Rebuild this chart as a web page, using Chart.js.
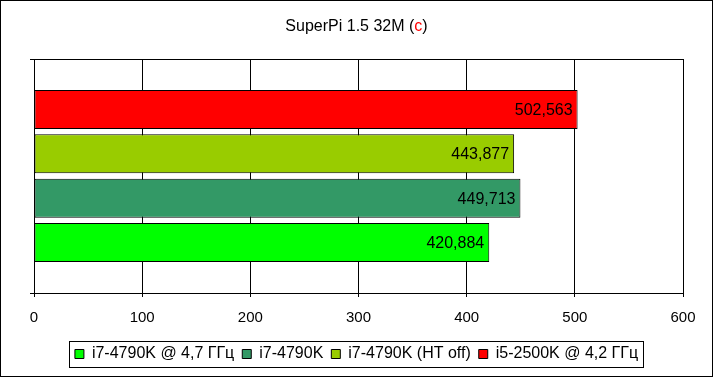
<!DOCTYPE html>
<html><head><meta charset="utf-8">
<script src="https://cdn.jsdelivr.net/npm/chart.js@4/dist/chart.umd.min.js"></script>
<style>
html,body{margin:0;padding:0;background:#fff;}
#wrap{position:relative;width:713px;height:377px;overflow:hidden;}
#title{position:absolute;left:0;top:17px;width:713px;text-align:center;font:16px "Liberation Sans",Arial,sans-serif;color:#000;white-space:nowrap;}
#title .c{color:#ff0000;}
canvas{position:absolute;left:0;top:0;}
</style></head><body>
<div id="wrap"><canvas id="c" width="713" height="377"></canvas><div id="title">SuperPi 1.5 32M (<span class="c">c</span>)</div></div>
<script>
const categories = ['SuperPi 1.5 32M'];
const seriesNames = ['i5-2500K @ 4,2 ГГц', 'i7-4790K (HT off)', 'i7-4790K', 'i7-4790K @ 4,7 ГГц'];
const seriesValues = [[502.563], [443.877], [449.713], [420.884]];
const seriesColors = ['#ff0000', '#99cc00', '#339966', '#00ff00'];
const xTicks = [0, 100, 200, 300, 400, 500, 600];

const FAMILY = '"Liberation Sans", Arial, sans-serif';

const frame = {
  id: 'frame',
  afterDraw(chart) {
    const ctx = chart.ctx;
    ctx.save();
    ctx.strokeStyle = '#000';
    ctx.lineWidth = 1;
    ctx.strokeRect(0.5, 0.5, chart.width - 1, chart.height - 1);
    const lg = chart.legend;
    if (lg && lg.legendHitBoxes && lg.legendHitBoxes.length) {
      const hb = lg.legendHitBoxes;
      let l = Infinity, r = -Infinity, t = Infinity, b = -Infinity;
      hb.forEach(h => { l = Math.min(l, h.left); r = Math.max(r, h.left + h.width); t = Math.min(t, h.top); b = Math.max(b, h.top + h.height); });
      const L = Math.round(l - 6) + 0.5, R = Math.round(r + 5) + 0.5;
      const T = Math.round(t - 5) + 0.5, B = Math.round(b + 5) + 0.5;
      ctx.strokeRect(L, T, R - L, B - T);
    }
    ctx.restore();
  }
};

const valueLabels = {
  id: 'valueLabels',
  afterDatasetsDraw(chart) {
    const ctx = chart.ctx;
    ctx.save();
    ctx.font = '16px ' + FAMILY;
    ctx.fillStyle = '#000';
    ctx.textAlign = 'right';
    ctx.textBaseline = 'middle';
    chart.data.datasets.forEach((ds, i) => {
      const meta = chart.getDatasetMeta(i);
      meta.data.forEach((el, j) => {
        const v = ds.data[j];
        ctx.fillText(v.toFixed(3).replace('.', ','), el.x - 5, el.y + 1);
      });
    });
    ctx.restore();
  }
};

new Chart(document.getElementById('c'), {
  type: 'bar',
  data: {
    labels: categories,
    datasets: seriesNames.map((n, i) => ({
      label: n,
      data: seriesValues[i],
      backgroundColor: seriesColors[i],
      borderColor: '#000',
      borderWidth: 1,
      borderSkipped: false,
      barPercentage: 0.88,
      categoryPercentage: 0.757
    }))
  },
  options: {
    indexAxis: 'y',
    responsive: false,
    animation: false,
    devicePixelRatio: 1,
    layout: { padding: { top: 59, left: 30, right: 30, bottom: 5 } },
    scales: {
      x: {
        min: 0, max: 600,
        afterBuildTicks(s) { s.ticks = xTicks.map(v => ({ value: v })); },
        afterFit(s) { s.height = 45; },
        ticks: { color: '#000', font: { size: 15, family: FAMILY }, padding: 12, maxRotation: 0 },
        grid: { color: '#000', lineWidth: 1, tickLength: 4, drawTicks: true },
        border: { color: '#000', width: 1 }
      },
      y: {
        ticks: { display: false },
        grid: { color: '#000', lineWidth: 1, tickLength: 4, offset: true },
        border: { color: '#000', width: 1 }
      }
    },
    plugins: {
      title: { display: false },
      tooltip: { enabled: false },
      legend: {
        position: 'bottom',
        reverse: true,
        labels: { color: '#000', font: { size: 16, family: FAMILY }, boxWidth: 9, boxHeight: 9, padding: 8 }
      }
    }
  },
  plugins: [valueLabels, frame]
});
</script>
</body></html>
